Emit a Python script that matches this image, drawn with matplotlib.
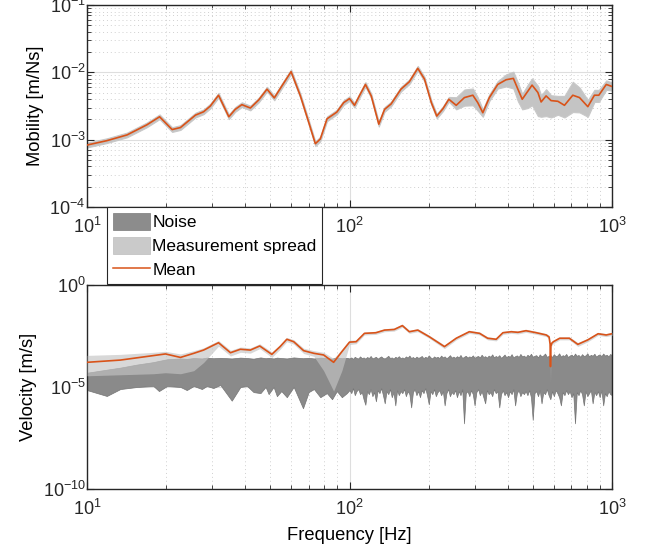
import matplotlib.pyplot as plt
import matplotlib.ticker as mticker
import numpy as np

plt.rcParams['font.family'] = ['Liberation Sans', 'DejaVu Sans']
plt.rcParams['mathtext.fontset'] = 'custom'
plt.rcParams['mathtext.rm'] = 'Liberation Sans'

# ---- top panel: mobility, log10 values ----
mob_f = [10, 11.9, 14.2, 16.9, 18.9, 21.1, 22.7, 25.9, 27.8, 29.5,
         31.7, 34.7, 36.7, 38.9, 41.9, 45.1, 48.5, 51.7, 55.3, 59.9,
         65.0, 69.9, 74.1, 77.4, 82.1, 89.5, 95, 100, 104.5, 109,
         115, 121, 129.3, 136, 144, 157, 169, 182, 193, 205,
         215, 227, 239, 255, 274, 295, 308, 322, 341, 367,
         395, 421, 438, 455, 478, 496, 522, 537, 561, 586,
         622, 659, 709, 752, 809, 857, 891, 951, 1000]
mob_mean = [-3.08, -3.015, -2.93, -2.78, -2.66, -2.85, -2.82, -2.635, -2.586, -2.50,
            -2.34, -2.66, -2.55, -2.48, -2.53, -2.41, -2.25, -2.38, -2.20, -1.99,
            -2.35, -2.74, -3.06, -2.99, -2.69, -2.59, -2.45, -2.39, -2.49, -2.35,
            -2.18, -2.35, -2.77, -2.55, -2.47, -2.25, -2.14, -1.94, -2.10, -2.45,
            -2.65, -2.54, -2.40, -2.49, -2.375, -2.34, -2.45, -2.60, -2.375, -2.18,
            -2.11, -2.09, -2.25, -2.40, -2.28, -2.19, -2.30, -2.44, -2.35, -2.42,
            -2.43, -2.49, -2.34, -2.375, -2.51, -2.34, -2.34, -2.18, -2.21]
# spread below / above the mean, decades
mob_dlo = [0.035] * 43 + [0.06, 0.12, 0.15, 0.12, 0.06, 0.05, 0.06, 0.10, 0.15, 0.18,
                          0.15, 0.25, 0.30, 0.35, 0.22, 0.30, 0.25, 0.20, 0.18, 0.25,
                          0.22, 0.15, 0.10, 0.10, 0.08, 0.06]
mob_dhi = [0.035] * 43 + [0.12, 0.12, 0.10, 0.08, 0.05, 0.05, 0.05, 0.08, 0.10, 0.10,
                          0.08, 0.10, 0.10, 0.10, 0.10, 0.10, 0.08, 0.08, 0.14, 0.20,
                          0.15, 0.10, 0.08, 0.08, 0.06, 0.06]

# ---- bottom panel: velocity, log10 values ----
vel_f = [10, 13.4, 17.9, 19.9, 22.7, 25.5, 27.8, 31.7, 35.2, 38.4,
         41.9, 45.5, 50.6, 54.4, 57.7, 61.3, 66.9, 73.2, 79.7, 87,
         93.5, 100, 106, 114, 126, 136, 148, 159, 169, 182,
         201, 230, 255, 286, 313, 336, 362, 384, 413, 438,
         470, 515, 562, 576, 581, 583, 585, 590, 598, 632,
         688, 741, 809, 885, 950, 1000]
vel_mean = [-3.79, -3.68, -3.46, -3.38, -3.55, -3.35, -3.19, -2.83, -3.32, -3.15,
            -3.19, -2.99, -3.40, -3.02, -2.66, -2.78, -3.22, -3.35, -3.43, -3.79,
            -3.27, -2.80, -2.78, -2.37, -2.34, -2.21, -2.18, -1.99, -2.29, -2.21,
            -2.53, -3.02, -2.61, -2.29, -2.37, -2.61, -2.66, -2.34, -2.29, -2.32,
            -2.24, -2.34, -2.45, -2.55, -2.90, -4.00, -3.00, -2.85, -2.78, -2.61,
            -2.61, -2.91, -2.69, -2.39, -2.45, -2.39]
vel_lo = [-4.45, -4.40, -4.35, -4.30, -4.35, -4.20, -3.80, -3.00, -3.48, -3.30,
          -3.34, -3.12, -3.55, -3.15, -2.78, -2.90, -3.36, -3.50, -4.20, -5.20,
          -4.20, -2.92, -2.88, -2.45, -2.42, -2.29, -2.26, -2.07, -2.37, -2.29,
          -2.61, -3.12, -2.69, -2.37, -2.45, -2.69, -2.74, -2.42, -2.37, -2.40,
          -2.32, -2.42, -2.53, -2.65, -3.10, -4.80, -3.20, -2.95, -2.87, -2.69,
          -2.69, -3.01, -2.78, -2.47, -2.53, -2.47]
vel_hi = [-3.45, -3.40, -3.30, -3.25, -3.38, -3.22, -3.08, -2.72, -3.20, -3.04,
          -3.08, -2.88, -3.28, -2.92, -2.57, -2.68, -3.10, -3.22, -3.30, -3.60,
          -3.15, -2.70, -2.70, -2.30, -2.27, -2.14, -2.11, -1.92, -2.22, -2.14,
          -2.46, -2.94, -2.54, -2.22, -2.30, -2.54, -2.59, -2.27, -2.22, -2.25,
          -2.17, -2.27, -2.38, -2.47, -2.80, -3.85, -2.90, -2.76, -2.70, -2.54,
          -2.54, -2.82, -2.61, -2.32, -2.38, -2.32]

# noise floor below 100 Hz
noise_f_low = [10, 11.9, 13.4, 15.5, 17.9, 18.8, 20.2, 22.7, 24, 25.5,
               27.4, 28.6, 30.3, 32.2, 35.6, 38.4, 40.7, 43.1, 45.8, 47.9,
               49.2, 51.4, 52.9, 55, 57.7, 61.3, 66.5, 69.9, 73.2, 77.4,
               82, 85.8, 89.5, 93.5, 97.7]
noise_lo_low = [-5.15, -5.44, -5.10, -5.00, -4.95, -5.20, -4.95, -5.00, -5.15, -4.95,
                -5.10, -4.95, -5.05, -4.90, -5.67, -5.00, -4.95, -5.25, -5.30, -5.00,
                -5.35, -5.00, -5.45, -5.20, -5.50, -5.00, -6.04, -5.25, -5.10, -5.50,
                -5.30, -5.60, -5.20, -5.50, -5.30]
noise_hi_low = [-4.30, -4.15, -4.05, -3.90, -3.78, -3.72, -3.64, -3.60, -3.62, -3.58,
                -3.60, -3.56, -3.59, -3.57, -3.60, -3.56, -3.58, -3.61, -3.55, -3.59,
                -3.57, -3.60, -3.56, -3.58, -3.60, -3.55, -3.59, -3.57, -3.60, -3.56,
                -3.58, -3.61, -3.55, -3.59, -3.57]
# noise floor 100 Hz - 1 kHz, 150 log-spaced bins
noise_f_high = np.geomspace(100, 1000, 150)
noise_lo_high = [
    -5.15, -5.30, -5.05, -5.40, -5.20, -5.10, -5.35, -5.25, -5.60, -5.87,
    -5.20, -5.35, -5.10, -5.45, -5.25, -5.70, -5.15, -5.30, -5.05, -5.40,
    -5.80, -5.20, -5.35, -5.10, -5.50, -5.25, -5.90, -5.15, -5.40, -5.20,
    -5.30, -5.10, -5.45, -5.20, -5.35, -6.00, -5.25, -5.10, -5.40, -5.20,
    -5.50, -5.15, -5.30, -5.05, -5.40, -5.85, -5.20, -5.35, -5.10, -5.45,
    -5.25, -5.15, -5.40, -5.20, -5.90, -5.30, -5.10, -5.45, -5.25, -5.35,
    -5.15, -5.50, -5.20, -5.40, -5.10, -6.78, -5.30, -5.20, -5.45, -5.15,
    -5.35, -5.90, -5.25, -5.10, -5.40, -5.20, -5.50, -5.80, -5.15, -5.35,
    -5.25, -5.45, -5.10, -5.30, -5.20, -6.00, -5.35, -5.15, -5.40, -5.25,
    -5.50, -5.20, -5.35, -5.10, -5.90, -5.30, -5.15, -5.45, -5.25, -5.35,
    -5.20, -5.40, -5.15, -5.50, -6.61, -5.30, -5.20, -5.45, -5.15, -5.80,
    -5.25, -5.35, -5.10, -5.40, -5.60, -5.20, -5.45, -5.15, -5.30, -5.50,
    -5.90, -5.25, -5.40, -5.15, -5.35, -5.20, -5.50, -5.30, -6.78, -5.25,
    -5.40, -5.15, -5.35, -5.90, -5.20, -5.45, -5.30, -5.15, -5.80, -5.25,
    -5.40, -5.20, -5.50, -5.15, -5.90, -5.30, -5.45, -5.20, -5.35, -5.40]
noise_hi_high = [
    -3.60, -3.55, -3.62, -3.52, -3.58, -3.60, -3.50, -3.59, -3.55, -3.61,
    -3.53, -3.58, -3.48, -3.60, -3.56, -3.52, -3.61, -3.55, -3.50, -3.58,
    -3.60, -3.54, -3.47, -3.58, -3.55, -3.61, -3.52, -3.57, -3.49, -3.59,
    -3.55, -3.60, -3.50, -3.56, -3.46, -3.58, -3.53, -3.60, -3.51, -3.57,
    -3.54, -3.48, -3.59, -3.52, -3.57, -3.45, -3.55, -3.60, -3.50, -3.56,
    -3.52, -3.58, -3.46, -3.55, -3.50, -3.59, -3.53, -3.44, -3.56, -3.51,
    -3.57, -3.49, -3.55, -3.43, -3.58, -3.52, -3.47, -3.56, -3.50, -3.54,
    -3.45, -3.57, -3.51, -3.48, -3.55, -3.42, -3.53, -3.49, -3.56, -3.46,
    -3.52, -3.40, -3.55, -3.48, -3.53, -3.44, -3.57, -3.50, -3.41, -3.54,
    -3.47, -3.52, -3.39, -3.55, -3.49, -3.45, -3.53, -3.38, -3.50, -3.46,
    -3.54, -3.42, -3.49, -3.37, -3.52, -3.47, -3.44, -3.55, -3.40, -3.50,
    -3.45, -3.36, -3.52, -3.48, -3.43, -3.53, -3.39, -3.49, -3.46, -3.35,
    -3.51, -3.44, -3.48, -3.38, -3.53, -3.46, -3.41, -3.50, -3.36, -3.47,
    -3.43, -3.52, -3.39, -3.48, -3.45, -3.35, -3.50, -3.42, -3.47, -3.37,
    -3.51, -3.44, -3.40, -3.49, -3.36, -3.46, -3.42, -3.50, -3.38, -3.45]

mean_col = '#D95319'
noise_col = '#8a8a8a'
spread_col = '#c4c4c4'
axcol = '#262626'

fig = plt.figure(figsize=(6.51, 5.55), dpi=100)
ax1 = fig.add_axes([87 / 651, 1 - 207 / 555, 525 / 651, 202 / 555])
ax2 = fig.add_axes([87 / 651, 1 - 489 / 555, 525 / 651, 204 / 555])

# top panel
mf = np.array(mob_f)
mm = np.array(mob_mean)
ax1.fill_between(mf, 10 ** (mm - np.array(mob_dlo)), 10 ** (mm + np.array(mob_dhi)),
                 color=spread_col, lw=0.8, edgecolor='#c8c8c8', zorder=2)
ax1.plot(mf, 10 ** mm, color=mean_col, lw=1.2, zorder=3)
ax1.set_ylim(1e-4, 1e-1)

# bottom panel
nf = np.concatenate([noise_f_low, noise_f_high])
nlo = np.concatenate([noise_lo_low, noise_lo_high])
nhi = np.concatenate([noise_hi_low, noise_hi_high])
ax2.fill_between(nf, 10 ** nlo, 10 ** nhi, color=noise_col, lw=0.5,
                 edgecolor='#757575', zorder=2)
ax2.fill_between(vel_f, 10 ** np.array(vel_lo), 10 ** np.array(vel_hi),
                 color=spread_col, alpha=0.65, lw=0, zorder=3)
ax2.plot(vel_f, 10 ** np.array(vel_mean), color=mean_col, lw=1.2, zorder=4)
ax2.set_ylim(1e-10, 1e0)
ax2.set_xlabel('Frequency [Hz]', fontsize=13.2, labelpad=6)

for ax in (ax1, ax2):
    ax.set_xscale('log')
    ax.set_yscale('log')
    ax.set_xlim(10, 1000)
    ax.tick_params(which='both', direction='in', top=True, right=True,
                   colors=axcol, labelsize=13)
    ax.tick_params(axis='x', which='both', pad=7)
    ax.tick_params(axis='y', which='both', pad=1)
    ax.tick_params(which='major', length=5, width=0.8)
    ax.tick_params(which='minor', length=3, width=0.6)
    for s in ax.spines.values():
        s.set_color(axcol)
        s.set_linewidth(1.0)
    ax.grid(which='major', color='#dedede', lw=0.8, ls='-', zorder=0)
    ax.xaxis.grid(which='minor', color='#d0d0d0', lw=0.7, ls=(0, (1, 3)), zorder=0)
    ax.set_axisbelow(True)

ax1.yaxis.grid(which='minor', color='#d0d0d0', lw=0.7, ls=(0, (1, 3)), zorder=0)
ax1.set_ylabel('Mobility [m/Ns]', fontsize=13.2, labelpad=4)
ax2.set_ylabel('Velocity [m/s]', fontsize=13.2, labelpad=4)
ax2.yaxis.set_major_locator(mticker.FixedLocator([1e-10, 1e-5, 1e0]))
ax2.yaxis.set_minor_locator(mticker.NullLocator())

h_noise = plt.Rectangle((0, 0), 1, 1, fc='#8c8c8c', ec='#7a7a7a', lw=0.5)
h_spread = plt.Rectangle((0, 0), 1, 1, fc='#cacaca', ec='#bdbdbd', lw=0.5)
h_mean = plt.Line2D([], [], color=mean_col, lw=1.1)
leg = fig.legend([h_noise, h_spread, h_mean], ['Noise', 'Measurement spread', 'Mean'],
                 loc='upper left', bbox_to_anchor=(107 / 651, 1 - 207 / 555),
                 fontsize=12.5, frameon=True, fancybox=False, framealpha=1,
                 edgecolor=axcol, handlelength=2.1, handleheight=1.1,
                 labelspacing=0.38, borderpad=0.35, handletextpad=0.15,
                 borderaxespad=0)
leg.get_frame().set_linewidth(0.8)
leg.set_zorder(10)

fig.savefig('out.png', dpi=100)
